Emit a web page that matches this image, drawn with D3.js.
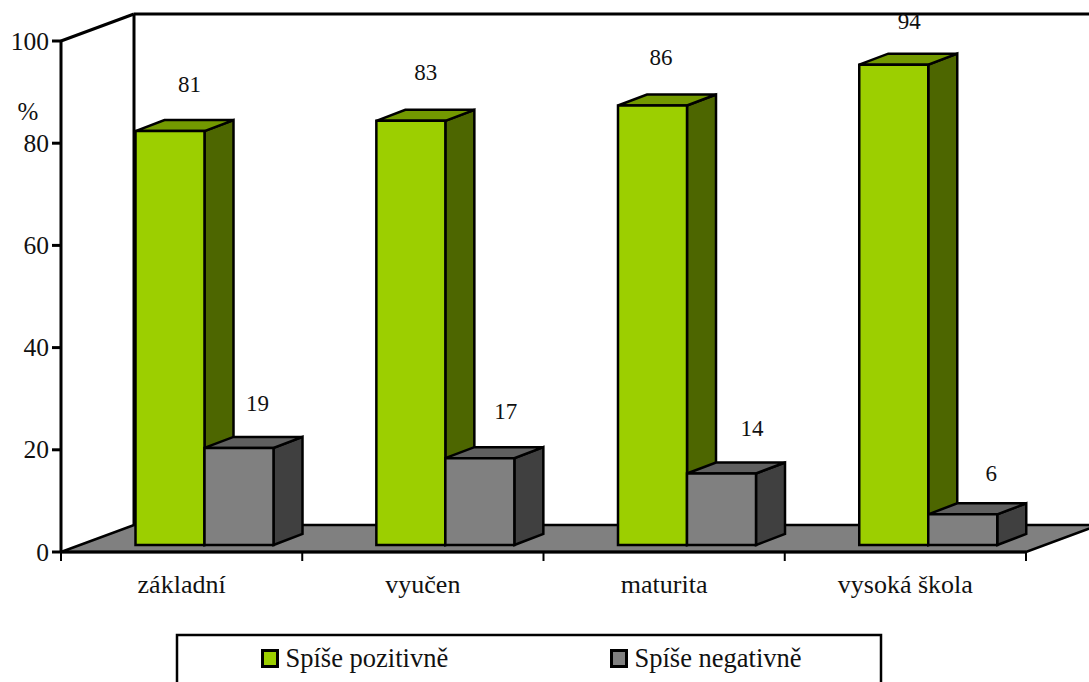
<!DOCTYPE html>
<html><head><meta charset="utf-8">
<script src="https://cdnjs.cloudflare.com/ajax/libs/d3/7.8.5/d3.min.js"></script>
<style>html,body{margin:0;padding:0;background:#fff;overflow:hidden}svg{display:block}text{font-family:"Liberation Serif",serif;fill:#111}</style>
</head><body><svg id="c" width="1089" height="682"></svg>
<script>
const categories = ["základní","vyučen","maturita","vysoká škola"];
const positive = [81,83,86,94];
const negative = [19,17,14,6];
const seriesNames = ["Spíše pozitivně","Spíše negativně"];
const yTicks = [0,20,40,60,80,100];

const svg = d3.select("#c");
const SW = 3;
const x = d3.scaleBand().domain(categories).range([61,1026]);
const y = d3.scaleLinear().domain([0,100]).range([552,41]);
const wallDx = 73, wallDy = -27, barDx = 29, barDy = -11, barInset = 74.5, barW = 69, barBase = -7;
const line = (x1,y1,x2,y2,w=SW)=>svg.append("line").attr("x1",x1).attr("y1",y1).attr("x2",x2).attr("y2",y2).attr("stroke","#000").attr("stroke-width",w);
const poly = (pts,fill,w=2.5)=>svg.append("polygon").attr("points",pts.map(p=>p.join(",")).join(" ")).attr("fill",fill).attr("stroke","#000").attr("stroke-width",w).attr("stroke-linejoin","miter");

// floor and walls
poly([[x.range()[0],y(0)],[x.range()[1],y(0)],[x.range()[1]+wallDx,y(0)+wallDy],[x.range()[0]+wallDx,y(0)+wallDy]],"#808080");
line(61,y(100),61+wallDx,y(100)+wallDy);
line(61+wallDx,y(100)+wallDy,1089,y(100)+wallDy);
line(61+wallDx,y(100)+wallDy,61+wallDx,y(0)+wallDy);

// axes
line(61,y(100)-1,61,y(0)+1);
line(61,y(0),1026,y(0));
yTicks.forEach(t=>{
  line(52,y(t),61,y(t));
  svg.append("text").attr("x",49).attr("y",y(t)+8.5).attr("text-anchor","end").attr("font-size",25.5).text(t);
});
x.domain().concat(["end"]).forEach((c,i)=>{
  const px = 61 + i*x.step();
  line(px,y(0),px,561,2);
});
categories.forEach(c=>svg.append("text").attr("x",x(c)+x.step()/2).attr("y",592.5).attr("text-anchor","middle").attr("font-size",26).text(c));
svg.append("text").attr("x",28).attr("y",120).attr("text-anchor","middle").attr("font-size",25).text("%");

// 3D bars
function bar(x0,v,front,top,side){
  const b = y(0)+barBase, t = y(v)+barBase, r = x0+barW;
  poly([[r,b],[r+barDx,b+barDy],[r+barDx,t+barDy],[r,t]],side);
  poly([[x0,t],[r,t],[r+barDx,t+barDy],[x0+barDx,t+barDy]],top);
  poly([[x0,t],[r,t],[r,b],[x0,b]],front);
}
const colours = {pos:["#9ccf00","#739900","#4d6600"],neg:["#808080","#606060","#404040"]};
categories.forEach((c,i)=>{
  const x0 = x(c)+barInset - (i===1?0.4:0);
  bar(x0,positive[i],...colours.pos);
  bar(x0+barW,negative[i],...colours.neg);
});

// value labels
const labelNudgePos = [54,49,43,50], labelNudgeNeg = [122,129,134,132];
const labelRise = [39,41,41,36], labelRiseNeg = [37,39,37,33];
categories.forEach((c,i)=>{
  const x0 = x(c)+barInset;
  svg.append("text").attr("x",x0+labelNudgePos[i]).attr("y",y(positive[i])+barBase-labelRise[i]).attr("text-anchor","middle").attr("font-size",23).text(positive[i]);
  svg.append("text").attr("x",x0+labelNudgeNeg[i]).attr("y",y(negative[i])+barBase-labelRiseNeg[i]).attr("text-anchor","middle").attr("font-size",23).text(negative[i]);
});

// legend
svg.append("rect").attr("x",177).attr("y",635).attr("width",704).attr("height",60).attr("fill","#fff").attr("stroke","#000").attr("stroke-width",2.5);
[[262.5,285.5],[611.5,634.5]].forEach(([sx,tx],i)=>{
  svg.append("rect").attr("x",sx).attr("y",650.5).attr("width",15).attr("height",16).attr("fill",i?colours.neg[0]:colours.pos[0]).attr("stroke","#000").attr("stroke-width",3);
  svg.append("text").attr("x",tx).attr("y",667).attr("font-size",26.5).text(seriesNames[i]);
});
</script></body></html>
